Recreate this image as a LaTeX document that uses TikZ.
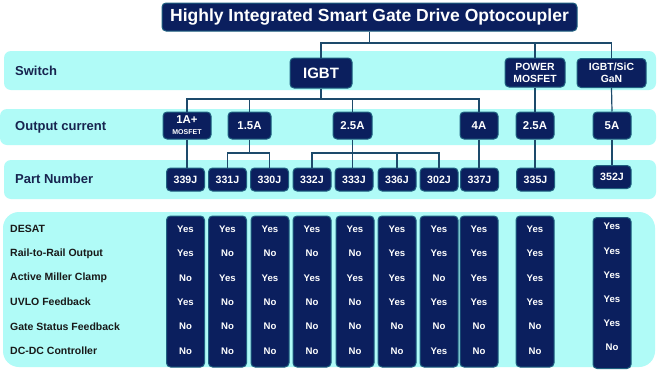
\documentclass[tikz,border=0pt]{standalone}
\usepackage{fontspec}
\setmainfont{Liberation Sans}
\definecolor{navy}{HTML}{0B1F5E}
\definecolor{rim}{HTML}{1E6080}
\definecolor{band}{HTML}{B0FBF7}
\definecolor{wire}{HTML}{1D4A6B}
\definecolor{lbl}{HTML}{17244F}
\begin{document}
\begin{tikzpicture}[x=1pt,y=-1pt,
  box/.style={draw=rim, fill=navy, line width=1pt, rounded corners=4pt, text=white, font=\bfseries, inner sep=0pt, align=center},
  bandbox/.style={fill=band, rounded corners=7pt},
  conn/.style={draw=wire, line width=1.2pt},
  rowlbl/.style={anchor=west, text=lbl, inner sep=0pt, font=\bfseries\fontsize{13}{15}\selectfont},
  featlbl/.style={anchor=west, inner sep=0pt, text=black!90, font=\bfseries\fontsize{10.5}{12}\selectfont},
  cell/.style={text=white, font=\bfseries\fontsize{9.6}{11}\selectfont, inner sep=0pt},
  cur/.style={box, minimum width=38pt, minimum height=27pt, font=\bfseries\fontsize{11.4}{13}\selectfont},
  part/.style={box, minimum width=38pt, minimum height=23pt, font=\bfseries\fontsize{10.6}{12}\selectfont},
  colbox/.style={box, minimum width=38pt, minimum height=151pt}]
\useasboundingbox (0,0) rectangle (670,370);
\fill[white] (0,0) rectangle (670,370);
% bands
\fill[bandbox] (4,51) rectangle (656,90);
\fill[bandbox] (0,109) rectangle (656,145);
\fill[bandbox] (4,160) rectangle (656,199);
\fill[band, rounded corners=16pt] (3,212) rectangle (655,367);
% row labels
\node[rowlbl] (lsw) at (15,71) {Switch};
\node[rowlbl] (lcur) at (15,127) {Output current};
\node[rowlbl] (lpart) at (15,179) {Part Number};
% title and switches
\node[box, minimum width=415pt, minimum height=28pt, font=\bfseries\fontsize{17.5}{19}\selectfont] (title) at (369.5,17) {Highly Integrated Smart Gate Drive Optocoupler};
\node[box, minimum width=62pt, minimum height=30pt, font=\bfseries\fontsize{15}{17}\selectfont] (igbt) at (321,73) {IGBT};
\node[box, minimum width=60pt, minimum height=29pt, font=\bfseries\fontsize{10.4}{12}\selectfont] (pmos) at (535,72.5) {POWER\\MOSFET};
\node[box, minimum width=69pt, minimum height=29pt, font=\bfseries\fontsize{10.4}{12}\selectfont] (sic) at (611.5,73) {IGBT/SiC\\GaN};
% output currents
\node[cur, minimum width=48pt] (c1) at (187,125.5) {1A+\\[-2pt]{\fontsize{7}{8}\selectfont MOSFET}};
\node[cur, minimum width=43pt] (c15) at (249.5,125.5) {1.5A};
\node[cur, minimum width=39pt] (c25) at (352.5,125.5) {2.5A};
\node[cur] (c4) at (479,125.5) {4A};
\node[cur] (c25p) at (535,125.5) {2.5A};
\node[cur] (c5) at (612,125.5) {5A};
% part numbers
\foreach \n/\x in {339/185.5,331/227.5,330/269.5,332/312,333/354,336/397,302/439,337/479.5,335/535.5}
  \node[part] (p\n) at (\x,179.5) {\n J};
\node[part] (p352) at (612,177) {352J};
% connectors
\coordinate (b1) at (0,43);
\coordinate (b2) at (0,99);
\coordinate (b3) at (0,153);
\draw[conn] (title.south) -- (title.south |- b1);
\draw[conn] (igbt.north) -- (igbt.north |- b1) -- (sic.north |- b1) -- (sic.north);
\draw[conn] (pmos.north) -- (pmos.north |- b1);
\draw[conn] (igbt.south) -- (igbt.south |- b2);
\draw[conn] (c1.north) -- (c1.north |- b2) -- (c4.north |- b2) -- (c4.north);
\draw[conn] (c15.north) -- (c15.north |- b2);
\draw[conn] (c25.north) -- (c25.north |- b2);
\draw[conn] (pmos.south) -- (c25p.north);
\draw[conn] (sic.south) -- (c5.north);
\draw[conn] (c1.south) -- (c1.south |- p339.north);
\draw[conn] (c15.south) -- (c15.south |- b3);
\draw[conn] (p331.north) -- (p331.north |- b3) -- (p330.north |- b3) -- (p330.north);
\draw[conn] (c25.south) -- (c25.south |- p333.north);
\draw[conn] (p332.north) -- (p332.north |- b3) -- (p302.north |- b3) -- (p302.north);
\draw[conn] (p336.north) -- (p336.north |- b3);
\draw[conn] (c4.south) -- (c4.south |- p337.north);
\draw[conn] (c25p.south) -- (c25p.south |- p335.north);
\draw[conn] (c5.south) -- (c5.south |- p352.north);
% feature labels
\foreach \t [count=\r] in {DESAT,Rail-to-Rail Output,Active Miller Clamp,UVLO Feedback,Gate Status Feedback,DC-DC Controller}{
  \pgfmathsetmacro{\yy}{204.6+24.4*\r}
  \node[featlbl] (f\r) at (10,\yy) {\t};
}
% feature columns
\foreach \c/\x/\vals in {
  1/185.5/{Yes,Yes,No,Yes,No,No},
  2/227.5/{Yes,No,Yes,No,No,No},
  3/270/{Yes,No,Yes,No,No,No},
  4/312/{Yes,No,Yes,No,No,No},
  5/355/{Yes,No,Yes,No,No,No},
  6/397/{Yes,Yes,Yes,Yes,No,No},
  7/439/{Yes,Yes,No,Yes,No,Yes},
  8/479/{Yes,Yes,Yes,Yes,No,No},
  9/535/{Yes,Yes,Yes,Yes,No,No}}{
  \node[colbox] (col\c) at (\x,291.5) {};
  \foreach \v [count=\r] in \vals {
    \pgfmathsetmacro{\yy}{204.6+24.4*\r}
    \node[cell] (v\c-\r) at (\x,\yy) {\v};
  }
}
\node[colbox] (col10) at (612,293) {};
\foreach \v [count=\r] in {Yes,Yes,Yes,Yes,Yes,No} {
  \pgfmathsetmacro{\yy}{202.4+24.2*\r}
  \node[cell] (v10-\r) at (612,\yy) {\v};
}
\end{tikzpicture}
\end{document}
